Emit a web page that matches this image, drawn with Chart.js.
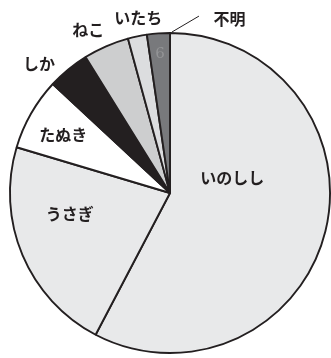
<!DOCTYPE html>
<html>
<head>
<meta charset="utf-8">
<script src="https://cdn.jsdelivr.net/npm/chart.js@4.4.0/dist/chart.umd.min.js"></script>
<style>
html,body{margin:0;padding:0;background:#fff;}
#wrap{width:331px;height:358px;position:relative;}
</style>
</head>
<body>
<div id="wrap"><canvas id="c" width="331" height="358"></canvas></div>
<script>
// Data
const categories = ['いのしし', 'うさぎ', 'たぬき', 'しか', 'ねこ', 'いたち', '不明'];
const counts = [150, 57, 19, 11, 12, 5, 6];
const innerNote = ['', '', '', '', '', '', '6'];

// Styles
const sliceColors = ['#e8e9ea', '#e8e9ea', '#ffffff', '#231f20', '#cdcecf', '#dcdddf', '#78797c'];
// label placement: angle (deg clockwise from top), radius as fraction of pie radius
const labelAngle = [76.4, 258.3, 298.6, 314.6, 333.4, 349.7, 18.9];
const labelRadius = [0.40, 0.64, 0.76, 1.15, 1.14, 1.11, 1.15];

const labelPlugin = {
  id: 'labels',
  afterDatasetsDraw(chart) {
    const ctx = chart.ctx;
    const meta = chart.getDatasetMeta(0);
    const a0 = meta.data[0];
    const cx = a0.x, cy = a0.y, R = a0.outerRadius;
    const pt = (deg, r) => {
      const t = deg * Math.PI / 180;
      return [cx + Math.sin(t) * r * R, cy - Math.cos(t) * r * R];
    };
    ctx.save();
    ctx.textAlign = 'center';
    ctx.textBaseline = 'middle';
    ctx.fillStyle = '#231f20';
    ctx.font = 'bold 16px "Noto Sans CJK JP"';
    categories.forEach((lab, i) => {
      const [x, y] = pt(labelAngle[i], labelRadius[i]);
      ctx.fillText(lab, x, y);
    });
    // inner note inside slice (at slice mid-angle)
    innerNote.forEach((n, i) => {
      if (!n) return;
      const arc = meta.data[i];
      const mid = (arc.startAngle + arc.endAngle) / 2;
      const r = R * 0.87;
      ctx.font = '15px "DejaVu Serif"';
      ctx.fillStyle = '#939496';
      ctx.fillText(n, cx + Math.cos(mid) * r, cy + Math.sin(mid) * r);
    });
    // leader line for 不明
    const [x1, y1] = pt(0.7, 1.006);
    const [x2, y2] = pt(9.3, 1.12);
    ctx.strokeStyle = '#231f20';
    ctx.lineWidth = 1;
    ctx.beginPath();
    ctx.moveTo(x1, y1);
    ctx.lineTo(x2, y2);
    ctx.stroke();
    ctx.restore();
  }
};

new Chart(document.getElementById('c'), {
  type: 'pie',
  data: {
    labels: categories,
    datasets: [{
      data: counts,
      backgroundColor: sliceColors,
      borderColor: '#231f20',
      borderWidth: 1.9,
      hoverOffset: 0
    }]
  },
  options: {
    responsive: false,
    animation: false,
    layout: { padding: { left: 9, right: 0, top: 32, bottom: 4 } },
    plugins: { legend: { display: false }, tooltip: { enabled: false } }
  },
  plugins: [labelPlugin]
});
</script>
</body>
</html>
